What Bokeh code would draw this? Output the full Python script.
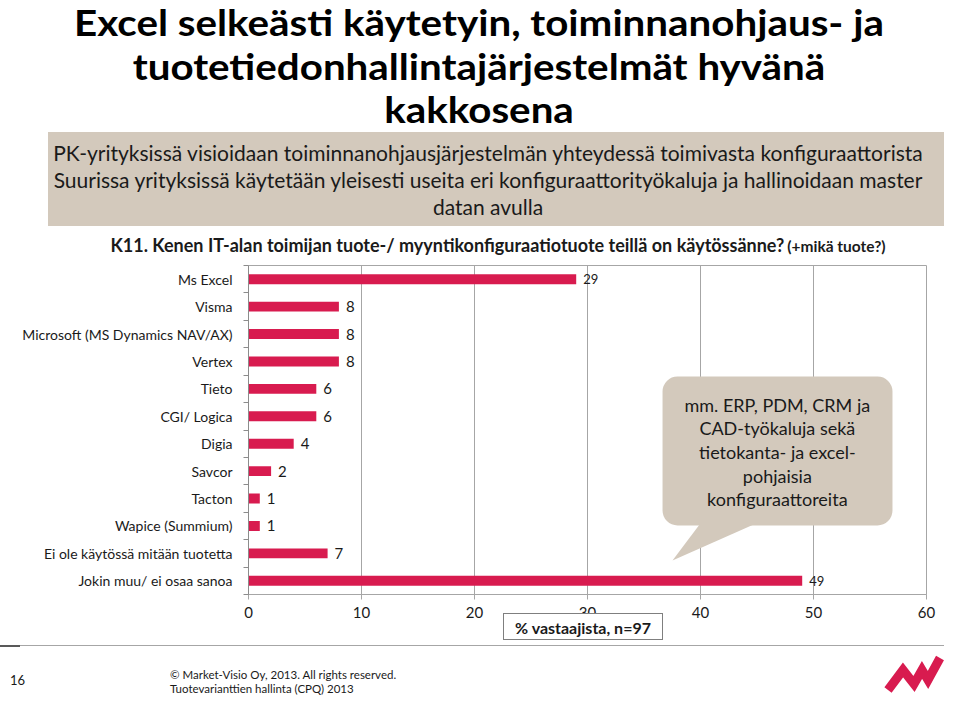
import numpy as np
from bokeh.plotting import figure
from bokeh.layouts import column
from bokeh.models import (ColumnDataSource, Range1d, FixedTicker, BoxAnnotation,
                          PolyAnnotation, Div)
from bokeh.core.properties import value
from bokeh.embed import file_html
from bokeh.resources import INLINE

# ---------------- data ----------------
title_lines = ["Excel selkeästi käytetyin, toiminnanohjaus- ja",
               "tuotetiedonhallintajärjestelmät hyvänä",
               "kakkosena"]
box_lines = ["PK-yrityksissä visioidaan toiminnanohjausjärjestelmän yhteydessä toimivasta konfiguraattorista",
             "Suurissa yrityksissä käytetään yleisesti useita eri konfiguraattorityökaluja ja hallinoidaan master",
             "datan avulla"]
question = "K11. Kenen IT-alan toimijan tuote-/ myyntikonfiguraatiotuote teillä on käytössänne?"
question_note = "(+mikä tuote?)"
categories = ["Ms Excel", "Visma", "Microsoft (MS Dynamics NAV/AX)", "Vertex", "Tieto",
              "CGI/ Logica", "Digia", "Savcor", "Tacton", "Wapice (Summium)",
              "Ei ole käytössä mitään tuotetta", "Jokin muu/ ei osaa sanoa"]
values = [29, 8, 8, 8, 6, 6, 4, 2, 1, 1, 7, 49]
x_ticks = [0, 10, 20, 30, 40, 50, 60]
x_axis_title = "% vastaajista, n=97"
callout_lines = ["mm. ERP, PDM, CRM ja", "CAD-työkaluja sekä", "tietokanta- ja excel-",
                 "pohjaisia", "konfiguraattoreita"]
footer_page = "16"
footer_lines = ["© Market-Visio Oy, 2013. All rights reserved.",
                "Tuotevarianttien hallinta (CPQ) 2013"]

# ---------------- style ----------------
FONT = "Lato"
BAR = "#D81B4F"
BEIGE = "#D3C9BC"
GRID = "#A6A6A6"
TXT = "#1A1A1A"
W = 944

# ---------------- header (HTML text) ----------------
HH = 264
title_divs = "".join(
    f'<div style="position:absolute;left:0;top:{43.5 * i}px;width:958px;height:44px;'
    f'text-align:center;font-weight:bold;font-size:36px;line-height:44px;color:#000;'
    f'white-space:nowrap;transform:scaleX(1.12);transform-origin:479px 50%;">{t}</div>'
    for i, t in enumerate(title_lines))
box_html = "<br>".join(box_lines)
header_html = f"""
<div style="position:relative;width:{W}px;height:{HH}px;font-family:'{FONT}';color:{TXT};">
  {title_divs}
  <div style="position:absolute;left:48px;top:132px;width:{W - 48}px;height:94px;background:{BEIGE};"></div>
  <div style="position:absolute;left:48px;top:139px;width:880px;text-align:center;
              font-size:21px;line-height:27px;white-space:nowrap;">{box_html}</div>
  <div style="position:absolute;left:48px;top:233px;width:900px;text-align:center;
              font-weight:bold;line-height:24px;white-space:nowrap;">
     <span style="font-size:18px;">{question}</span>
     <span style="font-size:15.5px;">{question_note}</span></div>
</div>"""
head = Div(text=header_html, width=W, height=HH, margin=0)

# ---------------- chart ----------------
ypos = list(range(len(categories)))
src = ColumnDataSource(dict(y=ypos, v=values, cat=categories,
                            lbl=[str(v) for v in values],
                            fs=["13px" if v >= 20 else "15px" for v in values]))

CH = 381
p = figure(width=W, height=CH, x_range=Range1d(0, 60),
           y_range=Range1d(len(categories) - 0.5, -0.5),
           output_backend="svg", toolbar_location=None,
           min_border_left=248, min_border_right=18, min_border_top=1, min_border_bottom=51)
p.outline_line_color = GRID
p.ygrid.visible = False
p.xgrid.grid_line_color = GRID
p.xgrid.ticker = FixedTicker(ticks=x_ticks)

p.hbar(y="y", left=0, right="v", height=0.36, fill_color=BAR, line_color=None, source=src)
p.text(x="v", y="y", text="lbl", x_offset=7, text_font=value(FONT), text_font_size="fs",
       text_align="left", text_baseline="middle", text_color=TXT, source=src)

# axes
p.yaxis.ticker = FixedTicker(ticks=ypos, minor_ticks=[i - 0.5 for i in range(len(categories) + 1)])
p.yaxis.major_label_overrides = {i: c for i, c in zip(ypos, categories)}
p.yaxis.major_tick_out = 0
p.yaxis.major_tick_in = 0
p.yaxis.minor_tick_out = 5
p.yaxis.minor_tick_in = 0
p.yaxis.minor_tick_line_color = "#8C8C8C"
p.yaxis.axis_line_color = "#8C8C8C"
p.yaxis.major_label_standoff = 11
p.yaxis.major_label_text_font = FONT
p.yaxis.major_label_text_font_size = "14px"
p.yaxis.major_label_text_color = TXT

p.xaxis.ticker = FixedTicker(ticks=x_ticks)
p.xaxis.axis_line_color = GRID
p.xaxis.major_tick_line_color = GRID
p.xaxis.major_tick_out = 5
p.xaxis.major_tick_in = 0
p.xaxis.minor_tick_line_color = None
p.xaxis.major_label_standoff = 7
p.xaxis.major_label_text_font = FONT
p.xaxis.major_label_text_font_size = "15px"
p.xaxis.major_label_text_color = TXT

# callout bubble
bubble = BoxAnnotation(left=36.64, right=56.99, top=3.55, bottom=8.98,
                       fill_color=BEIGE, fill_alpha=1.0, line_color=None,
                       border_radius=15, level="underlay")
tail = PolyAnnotation(xs=[40.0, 44.96, 37.52], ys=[8.9, 8.9, 10.26],
                      fill_color=BEIGE, fill_alpha=1.0, line_color=None, level="underlay")
p.add_layout(bubble)
p.add_layout(tail)
p.text(x=[46.8] * len(callout_lines), y=[4.57, 5.41, 6.29, 7.16, 8.0], text=callout_lines,
       text_font=value(FONT), text_font_size="18px", text_align="center",
       text_baseline="middle", text_color=TXT)

# ---------------- footer (HTML) ----------------
FH = 696 - HH - CH
footer_text = "<br>".join(footer_lines)
footer_html = f"""
<div style="position:relative;width:{W}px;height:{FH}px;font-family:'{FONT}';color:{TXT};overflow:visible;">
  <div style="position:absolute;left:503px;top:-32px;width:160px;height:27px;border:1px solid #7F7F7F;
              background:#fff;text-align:center;font-weight:bold;font-size:16px;line-height:27px;
              white-space:nowrap;">{x_axis_title}</div>
  <div style="position:absolute;left:0;top:0;width:{W}px;height:1px;background:{GRID};"></div>
  <div style="position:absolute;left:0;top:0;width:20px;height:2px;background:#595959;"></div>
  <div style="position:absolute;left:10px;top:28px;font-size:13px;line-height:15px;">{footer_page}</div>
  <div style="position:absolute;left:170px;top:23px;font-size:11.5px;line-height:14px;white-space:nowrap;">{footer_text}</div>
  <svg style="position:absolute;left:880px;top:5px;" width="64" height="46">
    <polyline points="8,40 23,20 34,34 42,20 48,30 60,8" fill="none" stroke="{BAR}"
              stroke-width="9" stroke-linejoin="miter"/>
  </svg>
</div>"""
foot = Div(text=footer_html, width=W, height=FH, margin=0, styles={"overflow": "visible"})

layout = column(head, p, foot, spacing=0)
open("out.html", "w").write(file_html(layout, INLINE))
